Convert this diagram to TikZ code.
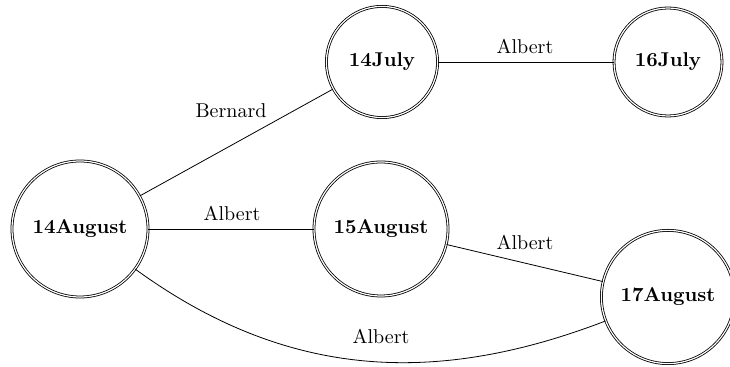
\documentclass[tikz,border=0pt]{standalone}
\begin{document}
\begin{tikzpicture}[x=0.5pt,y=-0.5pt,
  state/.style={draw, circle, double, double distance=0.6pt, font=\bfseries, inner sep=0pt},
  lbl/.style={inner sep=1pt},
  conn/.style={draw}]
\useasboundingbox (0,0) rectangle (730,367);
\node[state, minimum size=68pt]   (a) at (80,229)  {14August};
\node[state, minimum size=55.6pt] (b) at (382,62)  {14July};
\node[state, minimum size=54pt]   (c) at (668,62)  {16July};
\node[state, minimum size=67pt]   (d) at (381,229) {15August};
\node[state, minimum size=66.6pt] (e) at (668,297) {17August};
\draw[conn] (a) -- (b);
\draw[conn] (b) -- (c);
\draw[conn] (a) -- (d);
\draw[conn] (d) -- (e);
\draw[conn] (a) to[out=-36, in=201] (e);
\node[lbl] (l1) at (231,111) {Bernard};
\node[lbl] (l2) at (525,46)  {Albert};
\node[lbl] (l3) at (232,213) {Albert};
\node[lbl] (l4) at (525,242) {Albert};
\node[lbl] (l5) at (381,336) {Albert};
\end{tikzpicture}
\end{document}
